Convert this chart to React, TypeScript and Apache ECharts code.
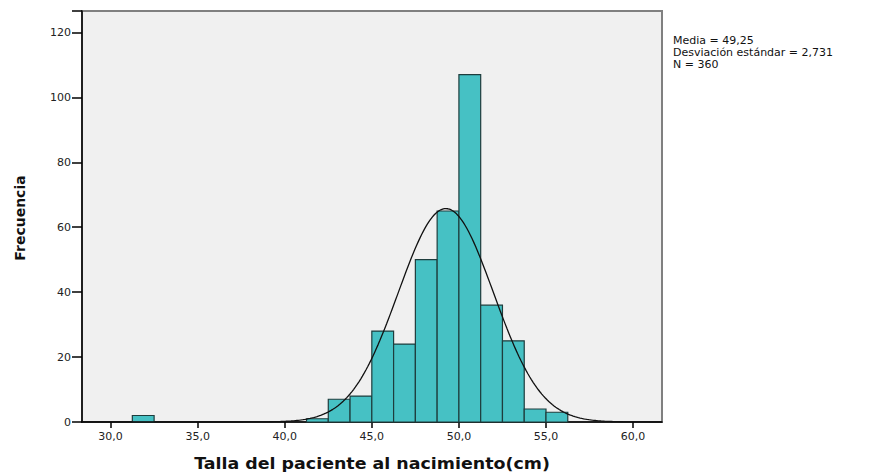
import React, { useEffect, useRef } from "react";
import * as echarts from "echarts";

// Histogram bins (start of each bin, width 1.25 cm) and frequencies
const BIN_WIDTH = 1.25;
const binStarts = [31.25, 41.25, 42.5, 43.75, 45.0, 46.25, 47.5, 48.75, 50.0, 51.25, 52.5, 53.75, 55.0];
const counts = [2, 1, 7, 8, 28, 24, 50, 65, 107, 36, 25, 4, 3];

// Summary statistics shown in the chart
const MEAN = 49.25;
const SD = 2.731;
const N = 360;

const xTicks = [30, 35, 40, 45, 50, 55, 60];
const statLines = ["Media = 49,25", "Desviación estándar = 2,731", "N = 360"];

const X_MIN = 28.36;
const X_MAX = 61.66;
const Y_MAX = 126.6;

// Normal curve scaled to the histogram: N * binWidth * pdf(x)
const curveXs: number[] = [];
for (let i = 0; i <= 333; i++) curveXs.push(+(X_MIN + i * 0.1).toFixed(2));
const curve = curveXs.map((x) => [
  x,
  (N * BIN_WIDTH) / (SD * Math.sqrt(2 * Math.PI)) * Math.exp(-0.5 * Math.pow((x - MEAN) / SD, 2)),
]);

const fmtComma = (v: number) => v.toFixed(1).replace(".", ",");
const FONT = "DejaVu Sans";

export default function App() {
  const ref = useRef<HTMLDivElement>(null);
  useEffect(() => {
    document.body.style.margin = "0";
    const chart = echarts.init(ref.current!, null, { renderer: "svg" });
    chart.setOption({
      animation: false,
      backgroundColor: "#ffffff",
      grid: {
        show: true,
        left: 82,
        right: 207,
        top: 11,
        bottom: 51,
        backgroundColor: "#f0f0f0",
        borderColor: "#808080",
        borderWidth: 2,
      },
      xAxis: {
        type: "value",
        min: X_MIN,
        max: X_MAX,
        axisLine: { show: true, onZero: false, lineStyle: { color: "#000", width: 1.5 } },
        axisTick: { show: true, customValues: xTicks, length: 6, lineStyle: { color: "#000", width: 1.5 } },
        axisLabel: {
          customValues: xTicks,
          formatter: (v: number) => fmtComma(v),
          color: "#222",
          fontFamily: FONT,
          fontSize: 11,
          margin: 9,
        },
        splitLine: { show: false },
      },
      yAxis: {
        type: "value",
        min: 0,
        max: Y_MAX,
        interval: 20,
        axisLine: { show: true, lineStyle: { color: "#000", width: 1.5 } },
        axisTick: { show: true, length: 10, lineStyle: { color: "#000", width: 1.5 } },
        axisLabel: {
          color: "#222",
          fontFamily: FONT,
          fontSize: 11,
          margin: 11,
          formatter: (v: number) => (v % 20 === 0 && v <= 120 ? String(v) : ""),
        },
        splitLine: { show: false },
      },
      series: [
        {
          type: "custom",
          data: binStarts.map((s, i) => [s, s + BIN_WIDTH, counts[i]]),
          renderItem: (params: any, api: any) => {
            const p0 = api.coord([api.value(0), 0]);
            const p1 = api.coord([api.value(1), api.value(2)]);
            return {
              type: "rect",
              shape: { x: p0[0], y: p1[1], width: p1[0] - p0[0], height: p0[1] - p1[1] },
              style: { fill: "#46c1c4", stroke: "#1e3d3d", lineWidth: 1.2 },
            };
          },
          z: 2,
        },
        {
          type: "line",
          data: curve,
          showSymbol: false,
          symbol: "none",
          lineStyle: { color: "#111", width: 1.3 },
          z: 3,
        },
      ],
      graphic: [
        {
          type: "text",
          x: 20,
          y: 218,
          rotation: Math.PI / 2,
          style: {
            text: "Frecuencia",
            font: `bold 14px '${FONT}'`,
            fill: "#111",
            align: "center",
            verticalAlign: "middle",
          },
        },
        {
          type: "text",
          x: 372,
          y: 463,
          scaleX: 1.09,
          style: {
            text: "Talla del paciente al nacimiento(cm)",
            font: `bold 16px '${FONT}'`,
            fill: "#111",
            align: "center",
            verticalAlign: "middle",
          },
        },
        ...statLines.map((t, i) => ({
          type: "text",
          x: 673,
          y: 40 + i * 12,
          style: {
            text: t,
            font: `11px '${FONT}'`,
            fill: "#111",
            align: "left",
            verticalAlign: "middle",
          },
        })),
      ],
    });
    return () => chart.dispose();
  }, []);
  return <div ref={ref} style={{ width: 869, height: 473 }} />;
}
